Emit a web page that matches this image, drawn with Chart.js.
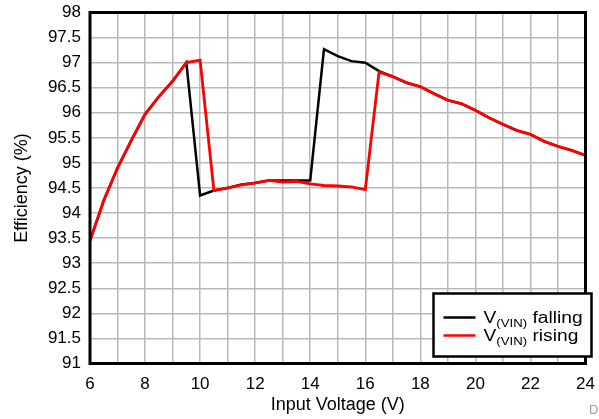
<!doctype html>
<html lang="en">
  <head>
    <title>Efficiency vs Input Voltage</title>
    <style>
      body{
        margin: 0;
        background: #ffffff;
      }
      #graph{
        width: 599px;
        height: 419px;
      }
    </style>
  </head>
  <body>
    <div id="graph"><canvas id="efficiency" width="599" height="419"></canvas></div>
  <script src="https://cdn.jsdelivr.net/npm/chart.js"></script>
<script>
  // input voltage in V, 0.5 V steps
  const inputVoltage = [6, 6.5, 7, 7.5, 8, 8.5, 9, 9.5, 10, 10.5, 11, 11.5, 12, 12.5, 13, 13.5, 14, 14.5, 15,
    15.5, 16, 16.5, 17, 17.5, 18, 18.5, 19, 19.5, 20, 20.5, 21, 21.5, 22, 22.5, 23, 23.5, 24];
  // efficiency in %
  const effFalling = [93.45, 94.25, 94.9, 95.45, 95.97, 96.32, 96.63, 97.0, 94.35, 94.45, 94.5, 94.57, 94.6, 94.65, 94.65, 94.65, 94.65, 97.27, 97.13,
    97.03, 97.0, 96.83, 96.72, 96.6, 96.52, 96.38, 96.25, 96.18, 96.05, 95.9, 95.77, 95.65, 95.57, 95.43, 95.33, 95.25, 95.15];
  const effRising = [93.45, 94.25, 94.9, 95.45, 95.97, 96.32, 96.63, 97.0, 97.05, 94.45, 94.5, 94.56, 94.6, 94.65, 94.62, 94.63, 94.58, 94.55, 94.54,
    94.52, 94.47, 96.81, 96.72, 96.6, 96.52, 96.38, 96.25, 96.18, 96.05, 95.9, 95.77, 95.65, 95.57, 95.43, 95.33, 95.25, 95.15];
  const seriesNames = ['falling', 'rising'];
  const xTickLabels = [6, 8, 10, 12, 14, 16, 18, 20, 22, 24];
  const yTickLabels = ['91', '91.5', '92', '92.5', '93', '93.5', '94', '94.5', '95', '95.5', '96', '96.5', '97', '97.5', '98'];

  const fontFam = "'Liberation Sans', Arial, sans-serif";

  function points(vals){
    return inputVoltage.map((v, i) => ({x: v, y: vals[i]}));
  }

  // plot frame, legend with subscripts, corner mark
  const framePlugin = {
    id: 'frame',
    afterDatasetsDraw(chart){
      const ctx = chart.ctx;
      const a = chart.chartArea;
      ctx.save();
      ctx.strokeStyle = '#000';
      ctx.lineWidth = 3;
      ctx.strokeRect(a.left, a.top, a.right - a.left, a.bottom - a.top);

      // legend box
      const bx = a.right - 152, by = a.bottom - 70, bw = 158, bh = 63;
      ctx.fillStyle = '#fff';
      ctx.fillRect(bx, by, bw, bh);
      ctx.lineWidth = 2.5;
      ctx.strokeRect(bx, by, bw, bh);
      const colors = ['#000000', '#ff0000'];
      seriesNames.forEach((name, i) => {
        const ly = by + 24 + i * 18;
        ctx.strokeStyle = colors[i];
        ctx.lineWidth = 2.5;
        ctx.beginPath();
        ctx.moveTo(bx + 10, ly);
        ctx.lineTo(bx + 42, ly);
        ctx.stroke();
        ctx.save();
        ctx.translate(bx + 50, ly + 5);
        ctx.scale(1.2, 1);
        ctx.fillStyle = '#000';
        ctx.textBaseline = 'alphabetic';
        ctx.textAlign = 'left';
        ctx.font = '16px ' + fontFam;
        ctx.fillText('V', 0, 0);
        let w = ctx.measureText('V').width;
        ctx.font = '11px ' + fontFam;
        ctx.fillText('(VIN)', w, 4);
        w += ctx.measureText('(VIN)').width;
        ctx.font = '16px ' + fontFam;
        ctx.fillText(' ' + name, w, 0);
        ctx.restore();
      });

      ctx.fillStyle = '#a0a0a0';
      ctx.font = '13px ' + fontFam;
      ctx.textBaseline = 'middle';
      ctx.fillText('D', 589, 410);
      ctx.restore();
    }
  };

  var myChart = new Chart(
    document.getElementById('efficiency'),
    {
      type: 'line',
      plugins: [framePlugin],
      options: {
        responsive: false,
        animation: false,
        layout: {
          padding: {top: 12.5, right: 13.5, left: 0, bottom: 0}
        },
        plugins: {
          legend: {display: false},
          tooltip: {enabled: false}
        },
        elements: {
          point: {radius: 0},
          line: {tension: 0}
        },
        scales: {
          x: {
            type: 'linear',
            min: 6,
            max: 24,
            border: {display: false},
            grid: {color: '#b9b9b9', lineWidth: 1.5, drawTicks: false},
            ticks: {
              stepSize: 1,
              autoSkip: false,
              maxRotation: 0,
              padding: 11,
              color: '#000',
              font: {family: fontFam, size: 17},
              callback: (v) => xTickLabels.includes(v) ? String(v) : ''
            },
            title: {
              display: true,
              text: 'Input Voltage (V)',
              color: '#000',
              font: {family: fontFam, size: 18},
              padding: {top: 0, bottom: 3}
            },
            afterFit: (scale) => {
              scale.height = 55.5;
              scale.paddingLeft = 0;
              scale.paddingRight = 0;
            }
          },
          y: {
            min: 91,
            max: 98,
            border: {display: false},
            grid: {color: '#b9b9b9', lineWidth: 1.5, drawTicks: false},
            ticks: {
              stepSize: 0.5,
              autoSkip: false,
              padding: 9,
              color: '#000',
              font: {family: fontFam, size: 17},
              callback: (v, i) => yTickLabels[i]
            },
            title: {
              display: true,
              text: 'Efficiency (%)',
              color: '#000',
              font: {family: fontFam, size: 18},
              padding: {top: 11, bottom: 0}
            },
            afterFit: (scale) => {
              scale.width = 90;
              scale.paddingTop = 0;
              scale.paddingBottom = 0;
            }
          }
        }
      },
      data: {
        datasets: [
          {
            label: 'V(VIN) falling',
            data: points(effFalling),
            borderColor: '#000000',
            borderWidth: 2.5,
            order: 1
          },
          {
            label: 'V(VIN) rising',
            data: points(effRising),
            borderColor: '#ff0000',
            borderWidth: 2.8,
            order: 0
          }
        ]
      }
    }
  );
</script>
  </body>
</html>
